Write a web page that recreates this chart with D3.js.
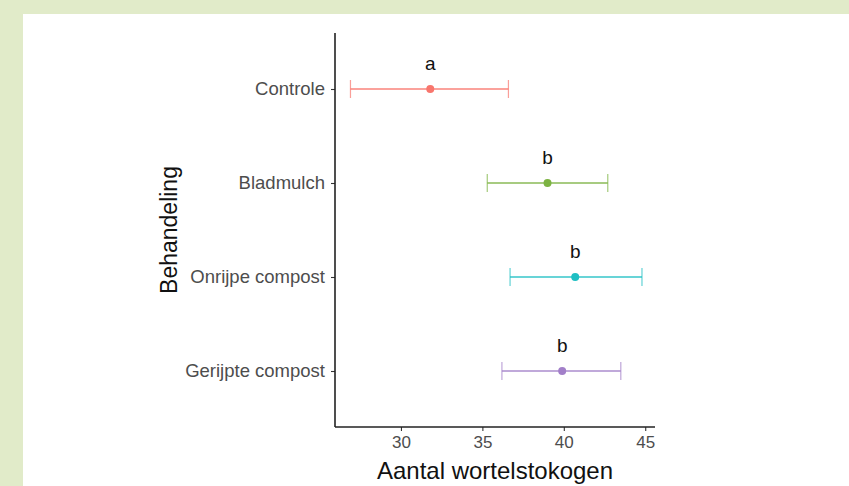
<!DOCTYPE html>
<html>
<head>
<meta charset="utf-8">
<script src="https://cdn.jsdelivr.net/npm/d3@7"></script>
<style>
  body { margin: 0; background: #e1ebc9; }
  svg { display: block; }
  text { font-family: "Liberation Sans", Arial, sans-serif; }
</style>
</head>
<body>
<svg id="chart" width="849" height="486"></svg>
<script>
var behandelingen = ["Controle", "Bladmulch", "Onrijpe compost", "Gerijpte compost"];
var gemiddelde = [31.8, 39.0, 40.7, 39.9];
var ondergrens = [26.9, 35.3, 36.7, 36.2];
var bovengrens = [36.6, 42.7, 44.8, 43.5];
var letters = ["a", "b", "b", "b"];
var xTicks = [30, 35, 40, 45];
var kleuren = ["#f8766d", "#7cb342", "#1fbfc3", "#a27fc9"];

var data = behandelingen.map(function(d, i) {
    return { naam: d, mean: gemiddelde[i], lo: ondergrens[i], hi: bovengrens[i], letter: letters[i], kleur: kleuren[i] };
});

var svg = d3.select("#chart");

// white panel
svg.append("rect")
    .attr("x", 23).attr("y", 14)
    .attr("width", 849 - 23).attr("height", 486 - 14)
    .attr("fill", "#ffffff");

var mLeft = 335, mRight = 655, mTop = 33, mBottom = 427;

var x = d3.scaleLinear().domain([25.95, 45.6]).range([mLeft, mRight]);
var y = d3.scalePoint().domain(behandelingen).range([89, 371]);

// axes
var xAxis = svg.append("g")
    .attr("transform", "translate(0," + mBottom + ")")
    .call(d3.axisBottom(x).tickValues(xTicks).tickSize(4).tickPadding(5));
var yAxis = svg.append("g")
    .attr("transform", "translate(" + mLeft + ",0)")
    .call(d3.axisLeft(y).tickSize(4).tickPadding(6));

[xAxis, yAxis].forEach(function(ax) {
    ax.select(".domain").remove();
    ax.selectAll(".tick line").attr("stroke", "#333333").attr("stroke-width", 1.1);
    ax.selectAll(".tick text").attr("fill", "#4d4d4d");
});
xAxis.selectAll(".tick text").style("font-size", "17px");
yAxis.selectAll(".tick text").style("font-size", "18.5px");

svg.append("line")
    .attr("x1", mLeft).attr("x2", mLeft).attr("y1", mTop).attr("y2", mBottom)
    .attr("stroke", "#222").attr("stroke-width", 1.6);
svg.append("line")
    .attr("x1", mLeft).attr("x2", mRight).attr("y1", mBottom).attr("y2", mBottom)
    .attr("stroke", "#222").attr("stroke-width", 1.6);

// error bars
var groep = svg.selectAll("g.rij")
    .data(data)
    .enter()
    .append("g")
    .attr("class", "rij");

groep.append("line")
    .attr("x1", function(d) { return x(d.lo); })
    .attr("x2", function(d) { return x(d.hi); })
    .attr("y1", function(d) { return y(d.naam); })
    .attr("y2", function(d) { return y(d.naam); })
    .attr("stroke", function(d) { return d.kleur; })
    .attr("stroke-opacity", 0.9)
    .attr("stroke-width", 1.3);

["lo", "hi"].forEach(function(k) {
    groep.append("line")
        .attr("x1", function(d) { return x(d[k]); })
        .attr("x2", function(d) { return x(d[k]); })
        .attr("y1", function(d) { return y(d.naam) - 9; })
        .attr("y2", function(d) { return y(d.naam) + 9; })
        .attr("stroke", function(d) { return d.kleur; })
        .attr("stroke-opacity", 0.7)
        .attr("stroke-width", 1.2);
});

groep.append("circle")
    .attr("cx", function(d) { return x(d.mean); })
    .attr("cy", function(d) { return y(d.naam); })
    .attr("r", 4)
    .attr("fill", function(d) { return d.kleur; });

groep.append("text")
    .attr("x", function(d) { return x(d.mean); })
    .attr("y", function(d) { return y(d.naam) - 19; })
    .attr("text-anchor", "middle")
    .style("font-size", "19px")
    .attr("fill", "#111")
    .text(function(d) { return d.letter; });

// titles
svg.append("text")
    .attr("x", (mLeft + mRight) / 2)
    .attr("y", 479)
    .attr("text-anchor", "middle")
    .style("font-size", "24px")
    .attr("fill", "#111")
    .text("Aantal wortelstokogen");

svg.append("text")
    .attr("transform", "translate(177," + ((mTop + mBottom) / 2) + ") rotate(-90)")
    .attr("text-anchor", "middle")
    .style("font-size", "23px")
    .attr("fill", "#111")
    .text("Behandeling");
</script>
</body>
</html>
